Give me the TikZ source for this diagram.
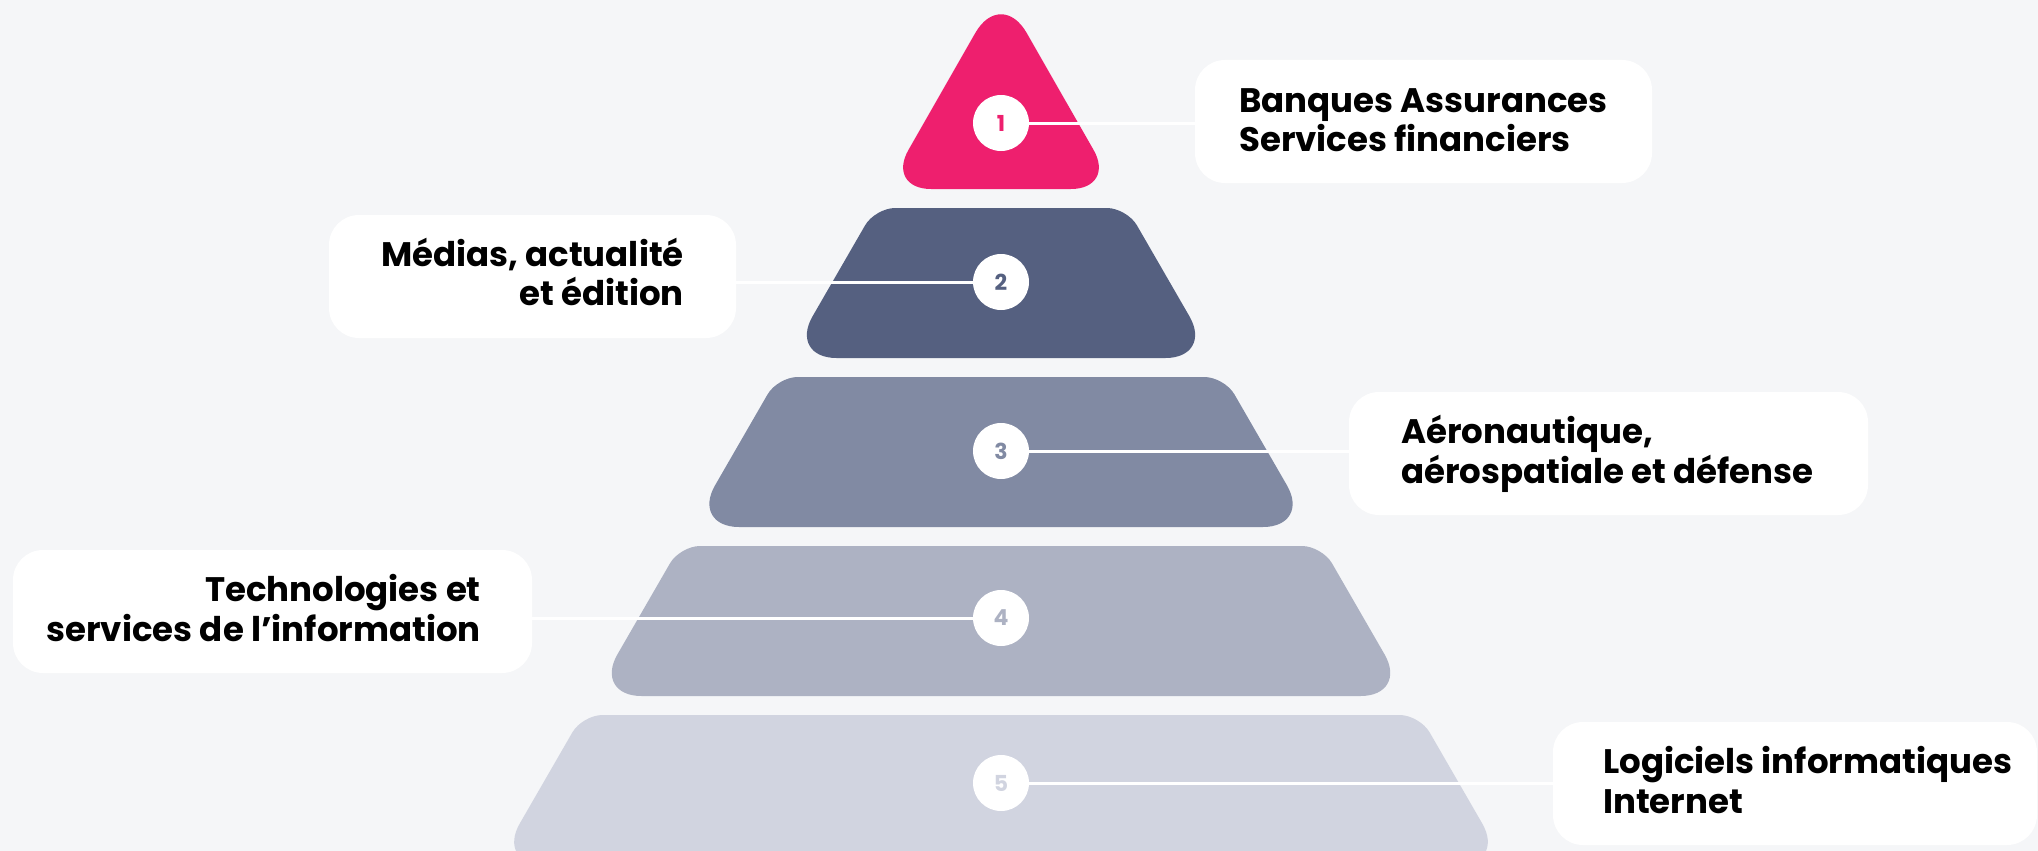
\documentclass[tikz,border=0pt]{standalone}
\usepackage{fontspec}
\setmainfont{Poppins}
\usetikzlibrary{calc}
\definecolor{bgc}{HTML}{F5F6F8}
\definecolor{tone1}{HTML}{EE1F6E}
\definecolor{tone2}{HTML}{556080}
\definecolor{tone3}{HTML}{818AA3}
\definecolor{tone4}{HTML}{ADB2C3}
\definecolor{tone5}{HTML}{D1D4E0}
\newcommand\twol[2]{\rule{0pt}{27pt}#1\\#2\rule[-8pt]{0pt}{8pt}}
\newcommand\tierfill[7]{%
  \coordinate (TL) at ({1001-#4},#2);
  \coordinate (TR) at ({1001+#4},#2);
  \coordinate (BR) at ({1001+#5},#3);
  \coordinate (BL) at ({1001-#5},#3);
  \fill[#1] ($(TL)!#6!(TR)$) -- ($(TR)!#6!(TL)$)
     .. controls ($(TR)!0.45*#6!(TL)$) and ($(TR)!0.45*#6!(BR)$) .. ($(TR)!#6!(BR)$)
     -- ($(BR)!#7!(TR)$) .. controls ($(BR)!0.45*#7!(TR)$) and ($(BR)!0.45*#7!(BL)$) .. ($(BR)!#7!(BL)$)
     -- ($(BL)!#7!(BR)$) .. controls ($(BL)!0.45*#7!(BR)$) and ($(BL)!0.45*#7!(TL)$) .. ($(BL)!#7!(TL)$)
     -- ($(TL)!#6!(BL)$) .. controls ($(TL)!0.45*#6!(BL)$) and ($(TL)!0.45*#6!(TR)$) .. ($(TL)!#6!(TR)$) -- cycle;
}
\tikzset{
  labelbox/.style={fill=white, rounded corners=30pt, inner sep=0pt, minimum height=123pt},
  labeltext/.style={inner sep=0pt, text=black, font=\bfseries\fontsize{34}{39.5}\selectfont},
  num/.style={circle, fill=white, minimum size=56pt, inner sep=0pt, font=\bfseries\fontsize{22}{22}\selectfont},
  link/.style={draw=white, line width=3pt},
}
\begin{document}
\begin{tikzpicture}[x=1pt,y=-1pt]
\fill[bgc] (0,0) rectangle (2038,851);
\useasboundingbox (0,0) rectangle (2038,851);
% tier 1 (triangle)
\coordinate (A) at (1001,-12);
\coordinate (TBL) at (886.1,189);
\coordinate (TBR) at (1115.9,189);
\fill[tone1] ($(A)!52pt!(TBR)$) -- ($(TBR)!45pt!(A)$)
  .. controls ($(TBR)!20pt!(A)$) and ($(TBR)!20pt!(TBL)$) .. ($(TBR)!45pt!(TBL)$)
  -- ($(TBL)!45pt!(TBR)$)
  .. controls ($(TBL)!20pt!(TBR)$) and ($(TBL)!20pt!(A)$) .. ($(TBL)!45pt!(A)$)
  -- ($(A)!52pt!(TBL)$)
  .. controls ($(A)!23pt!(TBL)$) and ($(A)!23pt!(TBR)$) .. ($(A)!52pt!(TBR)$) -- cycle;
% tiers 2-5
\tierfill{tone2}{208}{358}{125.9}{212.5}{20pt}{48pt}
\tierfill{tone3}{377}{527}{223.4}{310.0}{20pt}{48pt}
\tierfill{tone4}{546}{696}{321.0}{407.6}{20pt}{48pt}
\tierfill{tone5}{715}{865}{418.6}{505.2}{20pt}{48pt}
% circles
\node[num, text=tone1] (c1) at (1001,123) {1};
\node[num, text=tone2] (c2) at (1001,282) {2};
\node[num, text=tone3] (c3) at (1001,451) {3};
\node[num, text=tone4] (c4) at (1001,618) {4};
\node[num, text=tone5] (c5) at (1001,783) {5};
% label boxes
\node[labelbox, minimum width=457pt] (b1) at (1423.5,121.5) {};
\node[labelbox, minimum width=407pt] (b2) at (532.5,276.5) {};
\node[labelbox, minimum width=519pt] (b3) at (1608.5,453.5) {};
\node[labelbox, minimum width=519pt] (b4) at (272.5,611.5) {};
\node[labelbox, minimum width=484pt] (b5) at (1795,783.5) {};
% connectors
\draw[link] (c1.east) -- (c1.east -| b1.west);
\draw[link] (c2.west) -- (c2.west -| b2.east);
\draw[link] (c3.east) -- (c3.east -| b3.west);
\draw[link] (c4.west) -- (c4.west -| b4.east);
\draw[link] (c5.east) -- (c5.east -| b5.west);
% texts
\node[labeltext, align=left, anchor=west] (t1) at (1239,122.5) {\twol{Banques Assurances}{Services financiers}};
\node[labeltext, align=right, anchor=east] (t2) at (684,276) {\twol{Médias, actualité}{et édition}};
\node[labeltext, align=left, anchor=west] (t3) at (1401,454) {\twol{Aéronautique,}{aérospatiale et défense}};
\node[labeltext, align=right, anchor=east] (t4) at (481,612) {\twol{Technologies et}{services de l’information}};
\node[labeltext, align=left, anchor=west] (t5) at (1603,784) {\twol{Logiciels informatiques}{Internet}};
\end{tikzpicture}
\end{document}
